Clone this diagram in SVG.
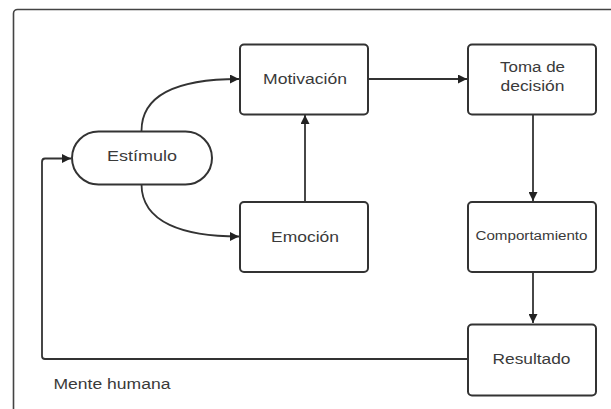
<svg xmlns="http://www.w3.org/2000/svg" width="611" height="409" viewBox="0 0 611 409">
  <style>
    .box { fill: #ffffff; stroke: #333333; stroke-width: 2; }
    .frame { fill: none; stroke: #444444; stroke-width: 1.6; }
    .lbl { font-family: "Liberation Sans", Arial, sans-serif; font-size: 14px; fill: #3a3a3a; text-anchor: middle; dominant-baseline: central; }
    .small { font-size: 12px; }
    .edge { fill: none; stroke: #333333; stroke-width: 1.8; }
  </style>
  <defs>
    <marker id="arrow" viewBox="0 0 10 10" refX="10" refY="5" markerWidth="10" markerHeight="9" markerUnits="userSpaceOnUse" orient="auto">
      <path d="M0,0 L10,5 L0,10 z" fill="#222222"/>
    </marker>
  </defs>
  <rect width="611" height="409" fill="#ffffff"/>

  <!-- outer container -->
  <g id="mente-humana">
    <rect class="frame" x="13.5" y="9.5" width="700" height="500" rx="4"/>
    <text class="lbl" x="112" y="384" textLength="117" lengthAdjust="spacingAndGlyphs">Mente humana</text>
  </g>

  <!-- connectors -->
  <g id="connectors">
    <path class="edge" d="M141.5,131 C141.5,92 184,79 239,79" marker-end="url(#arrow)"/>
    <path class="edge" d="M141.5,184 C141.5,223 184,236.5 239,236.5" marker-end="url(#arrow)"/>
    <path class="edge" d="M305,202 L305,115" marker-end="url(#arrow)"/>
    <path class="edge" d="M368,79 L467,79" marker-end="url(#arrow)"/>
    <path class="edge" d="M533,114 L533,201" marker-end="url(#arrow)"/>
    <path class="edge" d="M533,272 L533,323" marker-end="url(#arrow)"/>
    <path class="edge" d="M468,359 L45,359 Q42,359 42,356 L42,162 Q42,158.5 45,158.5 L71,158.5" marker-end="url(#arrow)"/>
  </g>

  <g id="estimulo">
    <rect class="box" x="72" y="131.5" width="140" height="53" rx="26.5"/>
    <text class="lbl" x="142" y="156" textLength="70" lengthAdjust="spacingAndGlyphs">Estímulo</text>
  </g>

  <g id="motivacion">
    <rect class="box" x="240" y="44.5" width="128" height="70" rx="4"/>
    <text class="lbl" x="305" y="79" textLength="84" lengthAdjust="spacingAndGlyphs">Motivación</text>
  </g>

  <g id="emocion">
    <rect class="box" x="240" y="202" width="128" height="70" rx="4"/>
    <text class="lbl" x="305" y="236.5" textLength="68" lengthAdjust="spacingAndGlyphs">Emoción</text>
  </g>

  <g id="toma-de-decision">
    <rect class="box" x="468" y="44.5" width="128" height="70" rx="4"/>
    <text class="lbl" x="532.5" y="67" textLength="65" lengthAdjust="spacingAndGlyphs">Toma de</text>
    <text class="lbl" x="532.5" y="86" textLength="64" lengthAdjust="spacingAndGlyphs">decisión</text>
  </g>

  <g id="comportamiento">
    <rect class="box" x="468" y="202" width="128" height="70" rx="4"/>
    <text class="lbl small" x="531.5" y="236" textLength="112" lengthAdjust="spacingAndGlyphs">Comportamiento</text>
  </g>

  <g id="resultado">
    <rect class="box" x="468" y="324.5" width="128" height="71" rx="4"/>
    <text class="lbl" x="531.5" y="359" textLength="78" lengthAdjust="spacingAndGlyphs">Resultado</text>
  </g>
</svg>
